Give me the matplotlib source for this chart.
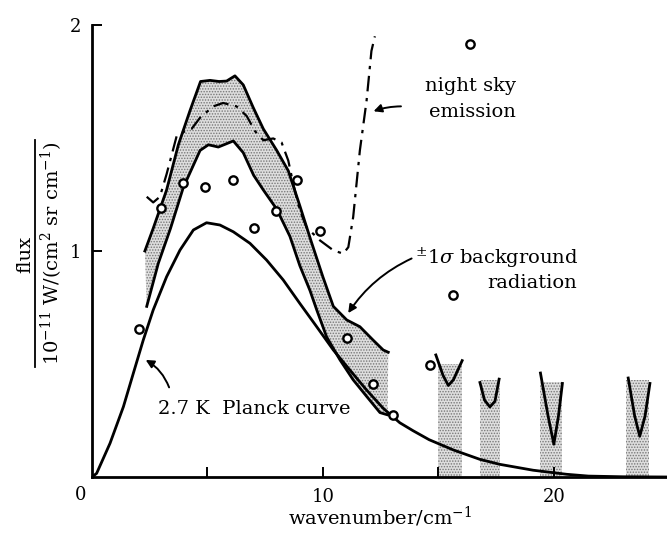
"""
Cosmic background radiation flux vs wavenumber, with 2.7 K Planck curve.
"""

import matplotlib
matplotlib.use('Agg')
import matplotlib.pyplot as plt
from matplotlib.lines import Line2D

# 2.7 K Planck curve
planck_x = [0, 0.2, 0.78, 1.36, 1.79, 2.22, 2.65, 3.23, 3.81, 4.39, 4.96, 5.54,
            6.12, 6.84, 7.56, 8.28, 9.0, 9.73, 10.45, 11.17, 11.89, 12.61, 13.33,
            13.9, 14.6, 15.64, 16.8, 17.66, 19.1, 20.55, 21.5, 23.0, 24.9]
planck_y = [0, 0.016, 0.149, 0.311, 0.459, 0.606, 0.739, 0.886, 1.004, 1.093, 1.125, 1.115,
            1.085, 1.034, 0.96, 0.872, 0.768, 0.665, 0.562, 0.473, 0.385, 0.304, 0.24,
            0.205, 0.165, 0.12, 0.078, 0.056, 0.03, 0.012, 0.004, 0.001, 0]

# +-1 sigma background band: upper and lower edges
upper_x = [2.29, 2.65, 3.23, 3.74, 4.24, 4.7, 5.11, 5.5, 5.83, 6.19, 6.55, 6.98,
           7.42, 8.0, 8.5, 9.0, 9.5, 10.0, 10.45, 11.03, 11.6, 12.18, 12.61, 12.83]
upper_y = [1.0, 1.1, 1.27, 1.47, 1.62, 1.75, 1.755, 1.75, 1.752, 1.775, 1.735, 1.635,
           1.54, 1.445, 1.355, 1.2, 1.04, 0.885, 0.755, 0.695, 0.665, 0.605, 0.562, 0.552]
lower_x = [2.37, 2.87, 3.4, 3.95, 4.68, 5.04, 5.47, 5.76, 6.12, 6.55, 7.0, 7.42,
           8.0, 8.57, 9.0, 9.44, 9.73, 10.16, 10.74, 11.31, 11.89, 12.47, 12.8]
lower_y = [0.755, 0.945, 1.1, 1.28, 1.445, 1.47, 1.46, 1.472, 1.487, 1.435, 1.335, 1.27,
           1.185, 1.065, 0.935, 0.825, 0.74, 0.62, 0.518, 0.43, 0.357, 0.285, 0.275]

# night sky emission
sky_x = [2.37, 2.65, 2.94, 3.23, 3.67, 4.03, 4.31, 4.68, 5.25, 5.68, 6.26, 6.7,
         7.06, 7.42, 7.85, 8.21, 8.5, 8.72, 9.0, 9.29, 9.87, 10.45, 10.88, 11.1,
         11.31, 11.6, 11.89, 12.1, 12.25]
sky_y = [1.24, 1.215, 1.24, 1.34, 1.51, 1.53, 1.54, 1.59, 1.64, 1.655, 1.64, 1.597,
         1.53, 1.49, 1.498, 1.48, 1.4, 1.295, 1.18, 1.105, 1.047, 1.003, 0.988, 1.017,
         1.15, 1.445, 1.665, 1.885, 1.95]

# measured points
pts_x = [2.03, 2.99, 3.95, 4.89, 6.12, 7.03, 7.95, 8.89, 9.87, 11.03, 12.16,
         13.02, 14.63, 15.62, 16.36]
pts_y = [0.655, 1.19, 1.3, 1.285, 1.312, 1.103, 1.178, 1.312, 1.09, 0.615, 0.41,
         0.275, 0.495, 0.805, 1.915]

# upper limits at high wavenumber (V shapes over stippled bars)
v1_x = [14.89, 15.2, 15.43, 15.65, 16.03]
v1_y = [0.54, 0.45, 0.405, 0.43, 0.515]
v2_x = [16.8, 17.0, 17.23, 17.45, 17.63]
v2_y = [0.418, 0.34, 0.31, 0.335, 0.433]
v3_x = [19.42, 19.75, 20.0, 20.2, 20.37]
v3_y = [0.46, 0.27, 0.145, 0.27, 0.414]
v4_x = [23.22, 23.5, 23.72, 23.95, 24.16]
v4_y = [0.438, 0.27, 0.18, 0.27, 0.414]
bar_left = [15.0, 16.8, 19.42, 23.14]
bar_right = [16.03, 17.66, 20.35, 24.13]
bar_top = [0.5, 0.43, 0.42, 0.43]

plt.rcParams['font.family'] = 'DejaVu Serif'
plt.rcParams['mathtext.fontset'] = 'dejavuserif'
plt.rcParams['hatch.linewidth'] = 0.7

fig = plt.figure(figsize=(6.67, 5.33), dpi=100)
ax = fig.add_axes([92 / 667, 1 - 477 / 533, 575 / 667, 452 / 533])
ax.set_xlim(0, 24.9)
ax.set_ylim(0, 2)

stip = dict(facecolor='#dedede', hatch='......', edgecolor='#777777', linewidth=0)
lw = 2.0

# band
band_x = upper_x + lower_x[::-1]
band_y = upper_y + lower_y[::-1]
ax.fill(band_x, band_y, **stip)
ax.plot(upper_x, upper_y, color='black', lw=lw)
ax.plot(lower_x, lower_y, color='black', lw=lw)

# stippled bars + V shapes
for l, r, t in zip(bar_left, bar_right, bar_top):
    ax.fill_between([l, r], [0, 0], [t, t], **stip)
for vx, vy in [(v1_x, v1_y), (v2_x, v2_y), (v3_x, v3_y), (v4_x, v4_y)]:
    ax.plot(vx, vy, color='black', lw=lw)

ax.plot(planck_x, planck_y, color='black', lw=lw)
ax.plot(sky_x, sky_y, color='black', lw=1.6, dashes=(7, 3, 1.5, 3))
ax.plot(pts_x, pts_y, 'o', ms=6, mfc='white', mec='black', mew=1.7, ls='none')

# axes styling
for s in ['top', 'right']:
    ax.spines[s].set_visible(False)
for s in ['left', 'bottom']:
    ax.spines[s].set_linewidth(2.0)
ax.set_xticks([5, 10, 15, 20])
ax.set_xticklabels(['', '10', '', '20'])
ax.set_yticks([1, 2])
ax.set_yticklabels(['1', '2'])
ax.tick_params(direction='in', length=7, width=1.4, labelsize=13, pad=8)
ax.text(-0.5, -0.04, '0', ha='center', va='top', fontsize=13)

# annotations
fs = 14
ax.text(18.35, 1.73, 'night sky', ha='right', va='center', fontsize=fs)
ax.text(18.35, 1.615, 'emission', ha='right', va='center', fontsize=fs)
ax.annotate('', xy=(12.08, 1.614), xytext=(13.5, 1.64),
            arrowprops=dict(arrowstyle='-|>', color='black', lw=1.4,
                            connectionstyle='arc3,rad=0.1', mutation_scale=12))

ax.text(14.0, 0.97, r'$^{\pm}$1$\sigma$ background', ha='left', va='center', fontsize=fs)
ax.text(19.05, 0.86, 'radiation', ha='center', va='center', fontsize=fs)
ax.annotate('', xy=(11.03, 0.715), xytext=(13.95, 0.972),
            arrowprops=dict(arrowstyle='-|>', color='black', lw=1.4,
                            connectionstyle='arc3,rad=0.15', mutation_scale=12))

ax.text(2.87, 0.3, '2.7 K  Planck curve', ha='left', va='center', fontsize=fs)
ax.annotate('', xy=(2.22, 0.524), xytext=(3.38, 0.385),
            arrowprops=dict(arrowstyle='-|>', color='black', lw=1.4,
                            connectionstyle='arc3,rad=0.2', mutation_scale=12))

# axis labels
fig.text(380 / 667, 1 - 517 / 533, r'wavenumber/cm$^{-1}$', ha='center', va='center', fontsize=fs)
fig.text(25 / 667, 1 - 254 / 533, 'flux', rotation=90, ha='center', va='center', fontsize=fs)
fig.text(52 / 667, 1 - 253 / 533, r'10$^{-11}$ W/(cm$^2$ sr cm$^{-1}$)', rotation=90,
         ha='center', va='center', fontsize=fs)
fig.add_artist(Line2D([35 / 667, 35 / 667], [1 - 140 / 533, 1 - 367 / 533],
                      color='black', lw=1.3))

plt.savefig('out.png', dpi=100)
